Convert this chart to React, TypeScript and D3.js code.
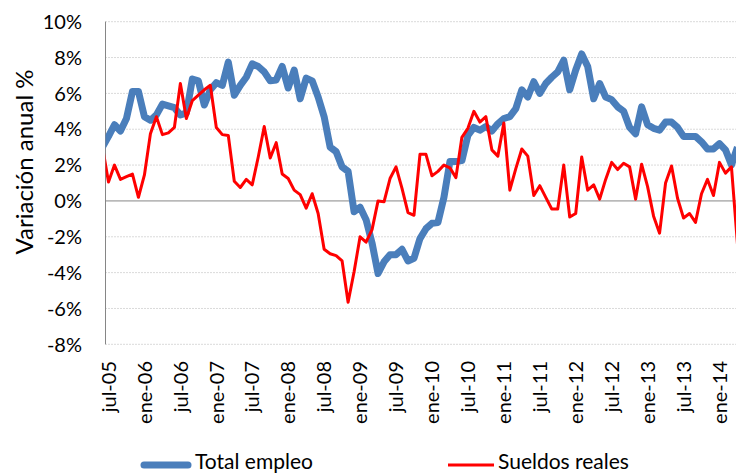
import React from "react";
import * as d3 from "d3";

// monthly values, first entry is jun-05 (sits just left of the axis, gets clipped)
const empleo = [
  3.0,
  3.6, 4.25, 3.9, 4.6, 6.1, 6.1, 4.7, 4.5, 4.8, 5.4,
  5.3, 5.2, 4.8, 4.9, 6.8, 6.7, 5.35, 6.2, 6.6, 6.45,
  7.75, 5.9, 6.45, 6.9, 7.65, 7.5, 7.2, 6.7, 6.75, 7.5,
  6.3, 7.3, 5.7, 6.85, 6.7, 5.8, 4.7, 3.0, 2.75, 1.9,
  1.65, -0.6, -0.35, -1.05, -2.35, -4.05, -3.4, -3.0, -3.0, -2.7,
  -3.35, -3.2, -2.1, -1.55, -1.25, -1.2, 0.2, 2.2, 2.2, 2.25,
  3.65, 4.1, 3.95, 4.15, 3.9, 4.3, 4.6, 4.7, 5.15, 6.2,
  5.8, 6.65, 6.0, 6.55, 6.9, 7.2, 7.85, 6.2, 7.3, 8.2,
  7.5, 5.7, 6.55, 5.8, 5.65, 5.25, 5.0, 4.1, 3.75, 5.25,
  4.25, 4.05, 3.95, 4.4, 4.4, 4.1, 3.6, 3.6, 3.6, 3.3,
  2.9, 2.9, 3.2, 2.85, 2.0, 3.0,
];

const sueldos = [
  3.0,
  1.05, 2.0, 1.2, 1.35, 1.5, 0.2, 1.45, 3.75, 4.7, 3.7,
  3.8, 4.1, 6.55, 4.6, 5.6, 5.9, 6.2, 6.45, 4.1, 3.7,
  3.65, 1.1, 0.75, 1.2, 0.9, 2.45, 4.15, 2.4, 3.25, 1.5,
  1.25, 0.6, 0.35, -0.4, 0.4, -0.7, -2.7, -2.95, -3.05, -3.35,
  -5.65, -3.95, -2.0, -2.3, -1.6, 0.0, -0.05, 1.25, 1.9, 0.7,
  -0.65, -0.8, 2.6, 2.6, 1.4, 1.65, 2.0, 1.85, 1.3, 3.55,
  4.05, 5.0, 4.4, 4.7, 2.85, 2.5, 4.35, 0.6, 1.8, 2.9,
  2.5, 0.3, 0.85, 0.2, -0.45, -0.45, 2.0, -0.9, -0.7, 2.45,
  0.6, 0.9, 0.1, 1.2, 2.15, 1.75, 2.1, 1.9, 0.1, 2.05,
  0.8, -0.85, -1.8, 1.0, 1.95, 0.15, -0.95, -0.7, -1.2, 0.4,
  1.2, 0.3, 2.15, 1.55, 1.9, -2.4,
];

// one label every 6 months, starting at jul-05 (month index 0)
const xLabels = [
  "jul-05", "ene-06", "jul-06", "ene-07", "jul-07", "ene-08",
  "jul-08", "ene-09", "jul-09", "ene-10", "jul-10", "ene-11",
  "jul-11", "ene-12", "jul-12", "ene-13", "jul-13", "ene-14",
];
const yTicks = [-8, -6, -4, -2, 0, 2, 4, 6, 8, 10];

const W = 736;
const H = 474;
const left = 105.5;
const nMonths = 106;
const font = "Lato, sans-serif";

export default function App() {
  const x = d3.scaleLinear().domain([-0.5, nMonths - 0.5]).range([left, left + nMonths * 5.99]);
  const y = d3.scaleLinear().domain([-8, 10]).range([344.3, 21.7]);

  const line = d3
    .line<number>()
    .x((_, i) => x(i - 1))
    .y((d) => y(d));

  return (
    <div style={{ position: "absolute", left: 0, top: 0 }}>
      <svg width={W} height={H} style={{ display: "block", background: "#fff" }}>
        <defs>
          <clipPath id="plot">
            <rect x={left} y={0} width={W - left + 10} height={H} />
          </clipPath>
        </defs>

        {/* gridlines */}
        {yTicks.filter((t) => t !== 0).map((t) => (
          <line key={t} x1={left} x2={W} y1={y(t)} y2={y(t)}
            stroke="#b4b4b4" strokeWidth={1} strokeDasharray="1,2" />
        ))}

        {/* tick labels */}
        {yTicks.map((t) => (
          <text key={"l" + t} x={82} y={y(t)} dy="0.36em" textAnchor="end"
            fontFamily={font} fontSize={20} fill="#000">{t + "%"}</text>
        ))}

        <text transform={`translate(24,162) rotate(-90)`} textAnchor="middle" dy="0.36em"
          fontFamily={font} fontSize={24} fill="#000">Variación anual %</text>

        {xLabels.map((lab, k) => (
          <text key={lab} transform={`translate(${x(k * 6)},361) rotate(-90)`}
            textAnchor="end" dy="0.36em" fontFamily={font} fontSize={20} fill="#000">{lab}</text>
        ))}

        {/* axes */}
        <line x1={left} x2={left} y1={y(10)} y2={y(-8)} stroke="#868686" strokeWidth={1} />
        <line x1={left} x2={W} y1={y(0)} y2={y(0)} stroke="#868686" strokeWidth={1} />

        <g clipPath="url(#plot)">
          <path d={line(empleo) || ""} fill="none" stroke="#4a7ebb" strokeWidth={7}
            strokeLinejoin="round" />
          <path d={line(sueldos) || ""} fill="none" stroke="#ff0000" strokeWidth={3}
            strokeLinejoin="round" />
        </g>

        {/* legend */}
        <line x1={144} x2={188} y1={465} y2={465} stroke="#4a7ebb" strokeWidth={7} strokeLinecap="round" />
        <text x={195} y={469} fontFamily={font} fontSize={21} fill="#000">Total empleo</text>
        <line x1={448} x2={494} y1={465} y2={465} stroke="#ff0000" strokeWidth={3} />
        <text x={498} y={469} fontFamily={font} fontSize={21} fill="#000">Sueldos reales</text>
      </svg>
    </div>
  );
}
